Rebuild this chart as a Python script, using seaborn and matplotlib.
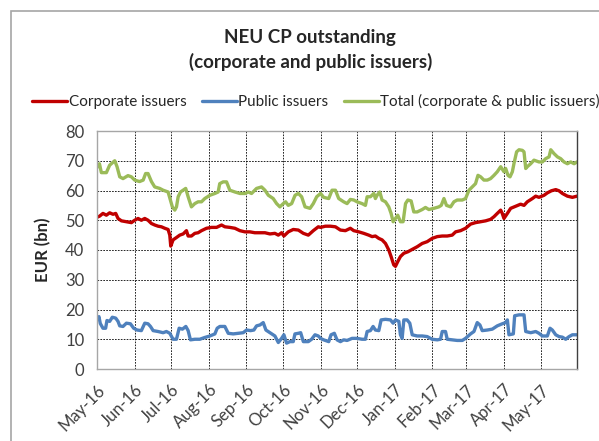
import matplotlib
matplotlib.use("Agg")
import matplotlib.pyplot as plt
import matplotlib.dates as mdates
from matplotlib.patches import Rectangle
import seaborn as sns
import pandas as pd

# days counted from 1 May 2016, values in EUR bn
total_day = [1, 2, 3.6, 7.7, 10.4, 14.6, 16.5, 18.7, 21.4, 25.5,
             28.3, 31, 35, 38, 40, 42, 44.8, 47.5, 51.6, 54.4,
             58.5, 60.4, 62, 64, 65.4, 66.8, 68.7, 70.9, 73, 75,
             77.7, 80.5, 83.2, 86, 88.7, 92.9, 97, 99.7, 101, 103.8,
             106.6, 109.3, 113.5, 117.6, 121.7, 124.5, 127.2, 131.3, 135.4, 138.2,
             141, 145, 147.8, 150.5, 153.3, 155.2, 157.4, 160.2, 163, 165.7,
             168.4, 171.2, 175.3, 178, 180.8,
             184, 186.5, 190.7, 193.4, 196.2, 198.9, 203, 205.8, 208.5, 211.3,
             214, 218.1, 220.9, 222.3, 225, 227.8, 229.1, 230.5, 232.7, 234.6,
             237.4, 240.1, 242, 243.7, 245.6, 247.5, 249.7, 251.9, 253.9, 255.8,
             258.5, 260.7, 263.5, 267.6, 270.3, 273.1, 277.2, 281.3, 283.3, 285.5,
             287.6, 291, 293.7, 296.4, 300.6, 303.3, 306.1, 308.8, 311.5, 313.5,
             315.7, 318.4, 321.2, 323.9, 326.7, 329.4, 332.2, 334.9, 336.3, 338.2,
             339.9, 341.8, 343.1, 345.3, 347.3, 350, 351.4, 352.8, 354.1, 356.9,
             359.6, 363.7, 366.5, 369.2, 372, 373.4, 376.1, 378.9, 381.6, 384.3,
             387.1, 389.8, 392.6, 395]
total_val = [68, 69, 66, 66, 68.5, 70, 68, 64.6, 64, 65,
             64.6, 63.5, 63, 63.5, 65.7, 65.7, 63, 61.2, 60.7, 60.1,
             59.5, 56.8, 54.5, 53.4, 54.5, 57.9, 59.5, 60.1, 60.7, 57.9,
             54.5, 55.6, 56.2, 56.2, 57.3, 58.4, 59, 59.5, 62.3, 62.9,
             62.9, 60.1, 59.5, 59, 59, 59.5, 59, 60.7, 61.2, 60.1,
             58.4, 57.3, 55.6, 54.5, 55.6, 56.2, 55, 55.6, 58.4, 59,
             57.9, 54.5, 54, 55.6, 57.9,
             59, 57.7, 57.3, 60.1, 60.1, 57.3, 56.2, 55.6, 57, 56.8,
             56.2, 55.6, 55, 57.9, 57.9, 59, 57.3, 58.4, 59.5, 56.8,
             56.2, 54.5, 52.3, 49.5, 50.6, 51.7, 49.5, 49.5, 55.6, 56.8,
             56.5, 52.8, 52.8, 53.6, 54.3, 53.6, 54, 54.5, 55, 57.3,
             55, 54.5, 56.2, 56.8, 56.8, 57.3, 60.1, 61.2, 62.3, 65.1,
             64.6, 63.5, 63.5, 64, 65.1, 66.3, 68, 66.3, 67.4, 65.1,
             64.6, 66.3, 69, 73, 73.7, 73.5, 73, 67.4, 68, 69,
             70.2, 69.6, 69.6, 70.7, 71.3, 73.7, 72.4, 71.3, 70.7, 69.6,
             69, 69.6, 69, 69.6]

corp_day = [0, 2.2, 4.9, 7.7, 10.4, 13.2, 15.4, 17.3, 20.1, 24.2,
            28.3, 31, 33.8, 36.5, 39.3, 42, 44.8, 47.5, 50.3, 53,
            55.8, 58.5, 59.9, 60.7, 62.6, 65.4, 68.1, 70.9, 73.6, 75,
            77.7, 80.5, 83.2, 86, 90.1, 94.2, 98.4, 102.5, 105.2, 109.3,
            113.5, 117.6, 121.7, 125.8, 129.9, 134.1, 138.2, 142.3, 146.4, 149.2,
            151.9, 153.8, 157.4, 161.5, 165.7, 169.8, 173.9, 178, 182.1,
            184, 187.9, 192, 196.2, 200.3, 204.4, 208.5, 211.3, 215.4, 219.5,
            223.6, 226.4, 229.1, 231.9, 234.6, 237.4, 240.1, 242, 244.2, 245.6,
            247.5, 249.7, 252.5, 255.8, 259.4, 263.5, 267.6, 271.7, 275.8, 280,
            284.1, 288.2, 292.3, 295.1, 299.2, 303.3, 307.4, 311.5, 315.7, 319.8,
            323.9, 326.7, 329.4, 332.2, 333.5, 334.9, 337.7, 340.4, 344.5, 348.6,
            351.4, 354.1, 358.3, 361, 363.7, 367.9, 370.6, 373.9, 377.5, 380.2,
            383, 387.1, 391.2, 395]
corp_val = [51, 51.4, 52.3, 51.7, 52.5, 52, 52.3, 50.6, 49.8, 49.5,
            49.2, 50, 50.6, 50, 50.6, 50, 48.9, 48.4, 48, 47.8,
            47.3, 46.9, 45, 41.3, 43.4, 44.2, 45, 45.4, 46.5, 44.7,
            44.7, 45.6, 45.8, 46.5, 47.3, 47.6, 47.6, 48.4, 47.8, 47.6,
            47.3, 46.5, 46.1, 46.1, 45.8, 45.8, 45.8, 45.4, 45.6, 45,
            45.8, 44.7, 46.1, 46.9, 46.7, 45.6, 45, 46.5, 47.8,
            47.6, 48, 48, 47.8, 46.7, 46.5, 47.3, 46.5, 46.1, 45.6,
            45, 44.5, 44.7, 43.9, 43.4, 42.2, 40, 37.8, 35, 34.5,
            36.1, 37.8, 38.9, 39.4, 40.2, 41.1, 42.2, 42.8, 43.9, 44.5,
            44.7, 44.7, 45, 46.1, 46.5, 47.3, 48.7, 49.2, 49.5, 49.8,
            50.3, 51.2, 52.3, 53.4, 52.3, 50.6, 52.3, 54, 54.7, 55.4,
            55, 56.2, 57.3, 58.1, 57.7, 58.4, 59.2, 59.9, 60.3, 59.9,
            59, 58.1, 57.7, 58.1]

pub_day = [0, 1.6, 2.7, 4.9, 7.1, 8.2, 10.4, 12.6, 15.4, 17.3,
           18.7, 21.4, 24.2, 27.5, 30.2, 33, 36.5, 39.3, 42, 44,
           46.2, 50.3, 54.4, 57.1, 59.9, 62.6, 65.4, 67.6, 70.3, 73.1,
           75, 76.9, 80.5, 84.6, 88.7, 92.9, 97, 98.9, 101.1, 105.2,
           108, 112.1, 116.2, 120.3, 123.1, 126.4, 129.1, 131.3, 134.1, 136.8,
           139, 142.3, 146.4, 149.2, 151.9, 153.8, 156, 158.8, 161.5, 162.9,
           165.7, 167.6, 169.8, 173.9, 176.6, 179.4, 182.1,
           184, 186.5, 190.7, 192.6, 195.3, 197.5, 200.3, 203, 205.8, 209.9,
           214, 218.1, 220.9, 222.3, 225, 227.2, 229.1, 231.9, 233.8, 237.4,
           241.5, 243.7, 245.6, 248.4, 249.7, 251.1, 252.5, 255.2, 257.4, 259.4,
           263.5, 267.6, 271.7, 275.8, 280, 282.7, 284.1, 286.8, 288.2, 292.3,
           296.4, 300.6, 303.3, 307.4, 310.2, 312.9, 315.1, 317, 321.2, 325.3,
           329.4, 333.5, 336.3, 337.7, 339, 342.6, 343.7, 347.3, 351.4, 352.8,
           356.9, 361, 363.7, 366.5, 370.6, 372.8, 374.7, 377.5, 380.2, 383,
           385.7, 388.5, 391.2, 395]
pub_val = [16.5, 17.6, 15.3, 13.7, 13.7, 16.3, 16, 17.4, 17.1, 16,
           14.5, 14.3, 15.4, 15.2, 13.7, 13.1, 12.9, 15.4, 15.2, 14.3,
           12.9, 12.6, 12.2, 12.6, 12, 10, 10, 13.7, 13.4, 14.3,
           12.9, 9.8, 10, 10, 10.6, 11.1, 11.8, 13.7, 14.3, 14.3,
           12, 11.8, 12, 12.2, 13.1, 12.9, 13.1, 14.5, 14.8, 15.6,
           13.1, 12.2, 11.1, 8.9, 10.3, 11.5, 8.7, 9.2, 9.2, 11.8,
           12, 12.2, 9.2, 9.2, 10, 11.5, 11.1,
           10.3, 9.8, 9.2, 11.5, 12, 9.8, 9.2, 9.8, 9.6, 10.3,
           10.3, 10, 10, 12.6, 12.9, 14.3, 13.1, 12.9, 16.5, 16.7,
           16.5, 15.4, 16.5, 16, 11.5, 10.3, 16.5, 16.5, 15.4, 11.5,
           11.1, 11.1, 10.9, 10, 9.8, 10, 12.6, 12.6, 10, 9.8,
           9.6, 9.6, 10.3, 11.8, 12.6, 15.6, 14.8, 12.9, 13.1, 13.4,
           14.5, 15.2, 15.6, 16.5, 11.5, 11.8, 17.9, 18.2, 18.2, 12.6,
           12.2, 12.6, 12, 11.1, 11.1, 13.7, 13.1, 11.5, 10.9, 10.7,
           10, 10.9, 11.5, 11.5]

series_names = ["Corporate issuers", "Public issuers",
                "Total (corporate & public issuers)"]
series_colors = ["#C00000", "#4F81BD", "#9BBB59"]

start = pd.Timestamp("2016-05-01")


def to_frame(days, vals):
    return pd.DataFrame({"date": start + pd.to_timedelta(days, unit="D"),
                         "value": vals})


frames = [to_frame(corp_day, corp_val), to_frame(pub_day, pub_val),
          to_frame(total_day, total_val)]

sns.set_style("white")
plt.rcParams["font.family"] = ["Lato", "DejaVu Sans"]

fig = plt.figure(figsize=(5.99, 4.41), dpi=100)
ax = fig.add_axes([97 / 599, 1 - 369 / 441, 480 / 599, 238 / 441])

for df, name, col in zip(frames, series_names, series_colors):
    sns.lineplot(data=df, x="date", y="value", ax=ax, color=col,
                 linewidth=2.4, label=name)

ax.set_xlim(start, pd.Timestamp("2017-05-31"))
ax.set_ylim(0, 80)
ax.set_yticks(range(0, 81, 10))
ax.xaxis.set_major_locator(mdates.MonthLocator())
ax.xaxis.set_major_formatter(mdates.DateFormatter("%b-%y"))
for lab in ax.get_xticklabels():
    lab.set_rotation(45)
    lab.set_ha("right")
    lab.set_rotation_mode("anchor")
ax.tick_params(axis="both", labelsize=12, colors="#404040", length=5,
               width=0.8, direction="out", pad=4)
ax.tick_params(axis="x", color="#808080")
ax.tick_params(axis="y", color="#808080")
ax.grid(True, color="black", linestyle=(0, (2, 1.5)), linewidth=0.6)
ax.set_axisbelow(True)
for side in ["top", "left", "bottom"]:
    ax.spines[side].set_color("#A6A6A6")
    ax.spines[side].set_linewidth(1)
ax.spines["right"].set_color("#404040")
ax.spines["right"].set_linewidth(1)

ax.set_xlabel("")
ax.set_ylabel("EUR (bn)", fontsize=12, fontweight="bold", labelpad=10)

ax.legend(loc="lower center", bbox_to_anchor=(0.456, 1.065), ncol=3,
          frameon=False, fontsize=11, handlelength=2.3, handletextpad=0.1,
          columnspacing=1.0, borderaxespad=0)

fig.text(0.518, 1 - 37 / 441, "NEU CP outstanding", ha="center",
         va="center", fontsize=13.5, fontweight="bold")
fig.text(0.518, 1 - 62 / 441, "(corporate and public issuers)", ha="center",
         va="center", fontsize=13.5, fontweight="bold")

fig.patches.append(Rectangle((11 / 599, -0.05), 1.0, 1.05 - 11 / 441,
                             transform=fig.transFigure, fill=False,
                             edgecolor="#A6A6A6", linewidth=1.2))

fig.savefig("out.png", dpi=100)
